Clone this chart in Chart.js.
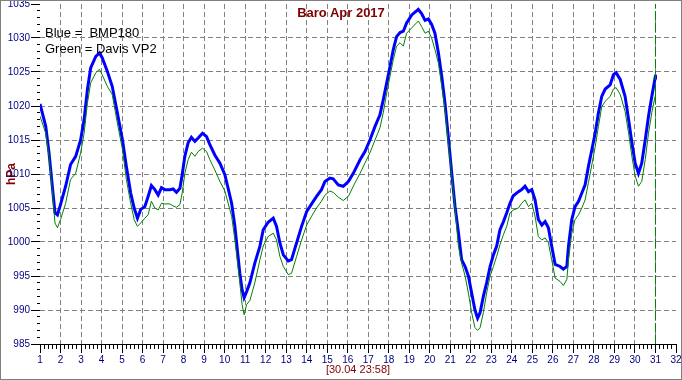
<!DOCTYPE html>
<html>
<head>
<meta charset="utf-8">
<script src="https://cdn.jsdelivr.net/npm/chart.js@4/dist/chart.umd.min.js"></script>
<style>
  html, body { margin: 0; padding: 0; background: #ffffff; }
  #wrap { position: relative; width: 682px; height: 380px; box-sizing: border-box; border: 1px solid #808080; background: #fff; overflow: hidden; }
  #c { position: absolute; left: 0; top: 0; }
  .ov { position: absolute; font-family: "Liberation Sans", Arial, sans-serif; white-space: pre; line-height: 16px; }
  #title { left: 0; width: 680px; top: 4px; text-align: center; font-size: 13px; font-weight: bold; color: #800000; }
  #leg { left: 44px; top: 24px; font-size: 13px; color: #000; }
</style>
</head>
<body>
<div id="wrap">
  <canvas id="c" width="680" height="378"></canvas>
  <div class="ov" id="title">Baro Apr 2017</div>
  <div class="ov" id="leg">Blue =  BMP180
Green = Davis VP2</div>
</div>
<script>
// Time in days of April 2017 (1 = start of 1 Apr)
const days = [
  1.0, 1.28, 1.44, 1.6, 1.73, 1.85, 2.0, 2.25, 2.49, 2.74, 2.98, 3.15, 3.31, 3.47, 3.72, 3.9,
  4.03, 4.28, 4.52, 4.77, 5.02, 5.21, 5.42, 5.59, 5.75, 5.91, 6.11, 6.27, 6.43, 6.6, 6.76, 6.92,
  7.08, 7.33, 7.49, 7.65, 7.82, 7.93, 8.06, 8.22, 8.38, 8.55, 8.71, 8.92, 9.12, 9.28, 9.52, 9.77,
  10.01, 10.17, 10.34, 10.5, 10.61, 10.74, 10.85, 10.95, 11.07, 11.23, 11.47, 11.72, 11.88, 12.12,
  12.37, 12.53, 12.69, 12.86, 13.1, 13.26, 13.51, 13.75, 14.0, 14.24, 14.48, 14.72, 14.89, 15.13,
  15.29, 15.54, 15.78, 16.03, 16.27, 16.6, 16.84, 17.08, 17.33, 17.57, 17.73, 17.9, 18.06, 18.22,
  18.38, 18.55, 18.71, 18.87, 19.12, 19.44, 19.6, 19.77, 19.93, 20.09, 20.25, 20.42, 20.58, 20.74,
  20.9, 21.07, 21.23, 21.39, 21.55, 21.72, 21.88, 22.04, 22.2, 22.33, 22.45, 22.61, 22.77, 22.94,
  23.1, 23.26, 23.42, 23.59, 23.75, 23.91, 24.07, 24.32, 24.48, 24.64, 24.81, 24.97, 25.13, 25.29,
  25.46, 25.62, 25.78, 25.94, 26.11, 26.35, 26.51, 26.68, 26.76, 26.92, 27.08, 27.25, 27.41, 27.57,
  27.73, 27.9, 28.06, 28.22, 28.38, 28.55, 28.79, 28.95, 29.08, 29.28, 29.52, 29.69, 29.85, 30.01,
  30.17, 30.33, 30.5, 30.66, 30.82, 30.98, 31.0
];

// Blue = BMP180 (hPa)
const bmp180 = [
  1020.3, 1017.0, 1013.1, 1008.2, 1004.3, 1004.0, 1005.5, 1008.2, 1011.4, 1012.6, 1015.0, 1018.0, 1022.4, 1025.6, 1027.3, 1027.8,
  1027.1, 1025.1, 1022.9, 1019.0, 1015.0, 1011.1, 1007.2, 1005.0, 1003.5, 1004.8, 1005.2, 1006.7, 1008.3, 1007.7, 1006.9, 1008.0,
  1007.7, 1007.7, 1007.8, 1007.3, 1007.9, 1009.9, 1012.6, 1014.6, 1015.4, 1014.8, 1015.3, 1016.0, 1015.5, 1014.3, 1012.8, 1011.6,
  1009.9, 1007.9, 1005.7, 1002.3, 999.1, 995.4, 993.0, 991.8, 992.7, 994.0, 996.9, 999.4, 1001.8, 1002.9,
  1003.5, 1002.3, 999.9, 998.1, 997.2, 997.4, 999.9, 1002.3, 1004.5, 1005.6, 1006.7, 1007.7, 1008.9, 1009.4,
  1009.3, 1008.4, 1008.2, 1008.9, 1010.1, 1012.1, 1013.3, 1015.0, 1017.0, 1018.7, 1020.9, 1023.4, 1025.8, 1028.3,
  1030.2, 1030.8, 1031.0, 1032.2, 1033.4, 1034.2, 1033.6, 1032.6, 1032.8, 1032.0, 1030.7, 1027.8, 1024.4, 1020.4,
  1015.5, 1010.1, 1005.2, 1001.5, 997.4, 996.4, 995.0, 992.5, 990.0, 988.8, 989.6, 992.0, 994.0, 996.4,
  998.1, 999.4, 1001.8, 1003.0, 1004.3, 1005.7, 1006.8, 1007.4, 1007.7, 1008.2, 1007.4, 1007.7, 1006.2, 1003.3,
  1002.5, 1003.0, 1002.1, 999.4, 996.7, 996.4, 996.0, 996.4, 999.4, 1003.3, 1005.2, 1006.0, 1007.2, 1008.4,
  1011.1, 1013.6, 1016.0, 1019.0, 1021.4, 1022.5, 1023.1, 1024.6, 1024.9, 1023.9, 1021.4, 1018.0, 1014.6, 1011.6,
  1010.1, 1011.6, 1015.0, 1018.5, 1021.4, 1024.1, 1024.6
];

// Green = Davis VP2 (hPa)
const davisVP2 = [
  1018.5, 1016.0, 1012.6, 1007.7, 1002.8, 1002.1, 1003.3, 1005.7, 1009.2, 1010.1, 1013.1, 1016.0, 1020.4, 1023.4, 1024.9, 1025.4,
  1024.6, 1022.9, 1021.7, 1017.5, 1013.6, 1009.2, 1005.7, 1003.3, 1002.3, 1002.8, 1003.5, 1004.0, 1006.0, 1005.0, 1004.7, 1005.7,
  1005.6, 1005.6, 1005.3, 1005.1, 1005.5, 1007.2, 1010.1, 1012.1, 1013.2, 1012.6, 1013.3, 1013.8, 1013.3, 1012.1, 1010.6, 1008.9,
  1007.5, 1005.7, 1003.8, 1000.3, 997.4, 994.0, 990.8, 989.3, 990.8, 991.4, 994.0, 997.4, 999.4, 1000.8,
  1001.3, 1000.3, 997.9, 996.4, 995.2, 995.4, 997.9, 1000.3, 1002.5, 1003.8, 1005.0, 1006.0, 1006.9, 1007.5,
  1007.3, 1006.6, 1006.1, 1006.7, 1008.2, 1010.1, 1011.6, 1013.1, 1015.0, 1016.8, 1019.0, 1021.9, 1024.4, 1026.8,
  1028.8, 1029.3, 1028.8, 1030.7, 1031.5, 1032.5, 1031.7, 1030.7, 1031.0, 1030.0, 1028.3, 1026.3, 1022.9, 1019.5,
  1014.5, 1009.7, 1005.0, 999.5, 996.9, 995.0, 992.5, 989.6, 987.4, 987.0, 987.4, 989.6, 992.5, 995.0,
  996.4, 997.9, 999.6, 1001.1, 1002.3, 1004.3, 1004.7, 1005.0, 1005.7, 1006.2, 1005.2, 1005.7, 1003.8, 1000.8,
  1000.3, 1000.6, 999.9, 997.4, 994.7, 994.2, 993.6, 994.5, 997.4, 1001.3, 1003.3, 1004.0, 1005.0, 1006.2,
  1008.7, 1011.4, 1014.0, 1017.0, 1019.9, 1020.7, 1021.4, 1022.5, 1022.7, 1021.7, 1019.2, 1016.0, 1012.6, 1009.7,
  1008.2, 1008.9, 1012.1, 1016.0, 1019.0, 1021.4, 1022.9
];

// Current-time cursor (30.04 23:58) and axis ranges
const cursorDay = [31, 31];
const yRange = [985, 1035];
const xRange = [1, 32];
const xAxisTitle = '[30.04 23:58]';
const yAxisTitle = 'hPa';

const toPts = (vals) => days.map((d, i) => ({ x: d, y: vals[i] }));

const FONT = '"Liberation Sans", Arial, sans-serif';
const GRID = '#808080';

new Chart(document.getElementById('c'), {
  type: 'line',
  data: {
    datasets: [
      { label: 'Davis VP2', data: toPts(davisVP2), borderColor: '#008000', borderWidth: 1,
        pointRadius: 0, tension: 0, fill: false, order: 1 },
      { label: 'BMP180', data: toPts(bmp180), borderColor: '#0000FF', borderWidth: 3,
        pointRadius: 0, tension: 0, fill: false, order: 2, borderJoinStyle: 'miter' },
      { label: 'now', data: cursorDay.map((d, i) => ({ x: d, y: yRange[i] })), borderColor: '#008000',
        borderWidth: 1, borderDash: [9, 3], pointRadius: 0, fill: false, order: 0 }
    ]
  },
  options: {
    responsive: false,
    animation: false,
    devicePixelRatio: 1,
    layout: { padding: { top: 3, right: 5, left: 0, bottom: 0 } },
    plugins: { legend: { display: false }, tooltip: { enabled: false }, title: { display: false } },
    scales: {
      x: {
        type: 'linear', position: 'bottom', weight: 1,
        min: xRange[0], max: xRange[1],
        ticks: { stepSize: 1, autoSkip: false, maxRotation: 0, color: '#000080', padding: 1,
                 font: { family: FONT, size: 10 }, callback: (v) => String(v) },
        grid: {
          color: (ctx) => (ctx.tick && (ctx.tick.value === xRange[0] || ctx.tick.value === xRange[1])) ? 'rgba(0,0,0,0)' : GRID,
          lineWidth: 1, tickLength: 9, tickColor: '#000000', tickWidth: 1
        },
        border: { display: true, color: '#000000', width: 1, dash: [5, 3] },
        title: { display: true, text: xAxisTitle, color: '#800000', font: { family: FONT, size: 11 },
                 padding: { top: 0, bottom: 2 } },
        afterFit: (s) => { s.height = 35; s.paddingLeft = 0; s.paddingRight = 0; }
      },
      xMinor: {
        type: 'linear', position: 'bottom', weight: 0,
        min: xRange[0], max: xRange[1],
        ticks: { stepSize: 0.2, display: false, autoSkip: false },
        grid: { drawOnChartArea: false, tickLength: 5, tickColor: '#000000', tickWidth: 1 },
        border: { display: false },
        afterFit: (s) => { s.height = 0; s.paddingLeft = 0; s.paddingRight = 0; }
      },
      y: {
        type: 'linear', position: 'left', weight: 1,
        min: yRange[0], max: yRange[1],
        ticks: { stepSize: 5, color: '#000080', padding: 1, font: { family: FONT, size: 10 },
                 callback: (v) => String(v) },
        grid: {
          color: (ctx) => (ctx.tick && (ctx.tick.value === yRange[0] || ctx.tick.value === yRange[1])) ? 'rgba(0,0,0,0)' : GRID,
          lineWidth: 1, tickLength: 9, tickColor: '#000000', tickWidth: 1
        },
        border: { display: false, dash: [5, 3] },
        title: { display: true, text: yAxisTitle, color: '#800000', font: { family: FONT, size: 12, weight: 'bold' },
                 padding: { top: 3, bottom: 0 } },
        afterFit: (s) => { s.width = 39; s.paddingTop = 0; s.paddingBottom = 0; }
      },
      yMinor: {
        type: 'linear', position: 'left', weight: 0,
        min: yRange[0], max: yRange[1],
        ticks: { stepSize: 1, display: false },
        grid: { drawOnChartArea: false, tickLength: 3, tickColor: '#000000', tickWidth: 1 },
        border: { display: false },
        afterFit: (s) => { s.width = 0; s.paddingTop = 0; s.paddingBottom = 0; }
      }
    }
  }
});
</script>
</body>
</html>
